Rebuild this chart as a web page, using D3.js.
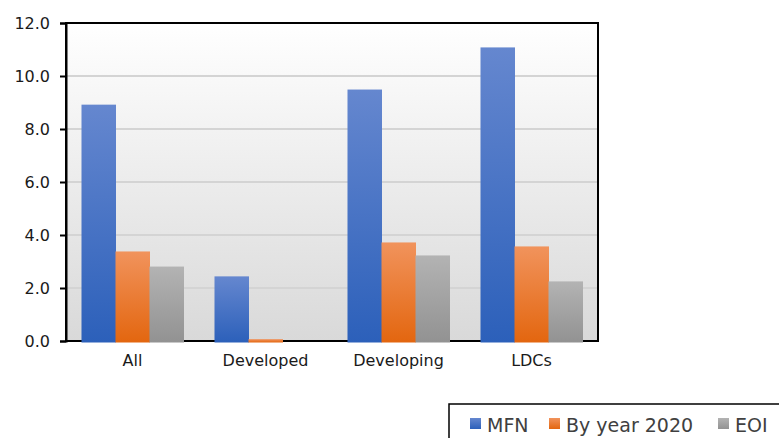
<!DOCTYPE html>
<html><head><meta charset="utf-8">
<script src="https://cdn.jsdelivr.net/npm/d3@7"></script>
<style>body{margin:0;background:#fff;}svg{display:block;font-family:"DejaVu Sans",Verdana,sans-serif;}</style>
</head><body><svg id="c" width="779" height="438"></svg>
<script>
const categories = ["All","Developed","Developing","LDCs"];
const seriesNames = ["MFN","By year 2020","EOI"];
const mfn = [8.9, 2.42, 9.47, 11.06];
const byYear2020 = [3.36, 0.05, 3.70, 3.55];
const eoi = [2.79, 0, 3.21, 2.23];
const yTicks = [0,2,4,6,8,10,12];
const colorsTop = ["#6587cf","#f1935c","#b3b3b3"];
const colorsBot = ["#2c60ba","#e3660f","#929292"];

const seriesVals = [mfn, byYear2020, eoi];
const svg = d3.select("#c");
const m = {l:66, t:23, r:598, b:341};
const x = d3.scaleBand().domain(categories).range([m.l, m.r]).paddingInner(0.233).paddingOuter(0.1165);
const xs = d3.scaleBand().domain(seriesNames).range([0, x.bandwidth()]);
const y = d3.scaleLinear().domain([0,12]).range([m.b, m.t]);

const defs = svg.append("defs");
const bg = defs.append("linearGradient").attr("id","bg").attr("x1",0).attr("y1",0).attr("x2",0).attr("y2",1);
bg.append("stop").attr("offset","0%").attr("stop-color","#ffffff");
bg.append("stop").attr("offset","100%").attr("stop-color","#d9d9d9");
seriesNames.forEach((s,si)=>{
  const g = defs.append("linearGradient").attr("id",`b${si}`).attr("x1",0).attr("y1",0).attr("x2",0).attr("y2",1);
  g.append("stop").attr("offset","0%").attr("stop-color",colorsTop[si]);
  g.append("stop").attr("offset","100%").attr("stop-color",colorsBot[si]);
});

svg.append("rect").attr("x",m.l).attr("y",m.t).attr("width",m.r-m.l).attr("height",m.b-m.t).attr("fill","url(#bg)");

svg.append("g").selectAll("line").data(yTicks.filter(d=>d>0&&d<12)).join("line")
  .attr("x1",m.l).attr("x2",m.r).attr("y1",d=>y(d)).attr("y2",d=>y(d))
  .attr("stroke","#d4d4d4").attr("stroke-width",2);

// frame
svg.append("rect").attr("x",m.l).attr("y",m.t).attr("width",m.r-m.l).attr("height",m.b-m.t)
  .attr("fill","none").attr("stroke","#000").attr("stroke-width",2);

const groups = svg.append("g").selectAll("g").data(categories).join("g")
  .attr("transform",d=>`translate(${x(d)},0)`);
groups.selectAll("rect").data((c,ci)=>seriesNames.map((s,si)=>({ci,si,v:seriesVals[si][ci]}))).join("rect")
  .attr("x",d=>xs(seriesNames[d.si])).attr("width",xs.bandwidth()+0.5)
  .attr("y",d=>y(d.v)-0.5).attr("height",d=>d.v>0 ? y(0)-y(d.v)+2 : 0)
  .attr("fill",d=>`url(#b${d.si})`);

const ya = svg.append("g").attr("transform",`translate(${m.l},0)`)
  .call(d3.axisLeft(y).tickValues(yTicks).tickFormat(d3.format(".1f")).tickSize(6).tickPadding(10));
ya.select(".domain").attr("stroke","#000").attr("stroke-width",2);
ya.selectAll(".tick line").attr("stroke","#000").attr("stroke-width",2);
ya.selectAll("text").attr("font-size",16).attr("fill","#1a1a1a").attr("font-family","DejaVu Sans");

const xa = svg.append("g").attr("transform",`translate(0,${m.b})`)
  .call(d3.axisBottom(x).tickSize(0).tickPadding(14));
xa.select(".domain").remove();
xa.selectAll("text").attr("font-size",16).attr("fill","#1a1a1a").attr("font-family","DejaVu Sans");

// legend
svg.append("rect").attr("x",449).attr("y",404).attr("width",340).attr("height",40)
  .attr("fill","#fff").attr("stroke","#000").attr("stroke-width",1.5);
const legX = [470, 549, 718];
const lg = svg.append("g").selectAll("g").data(seriesNames).join("g")
  .attr("transform",(d,i)=>`translate(${legX[i]},418)`);
lg.append("rect").attr("width",11).attr("height",11).attr("fill",(d,i)=>`url(#b${i})`);
lg.append("text").attr("x",17).attr("y",14).attr("font-size",19).attr("fill","#404040").text(d=>d);
</script></body></html>
